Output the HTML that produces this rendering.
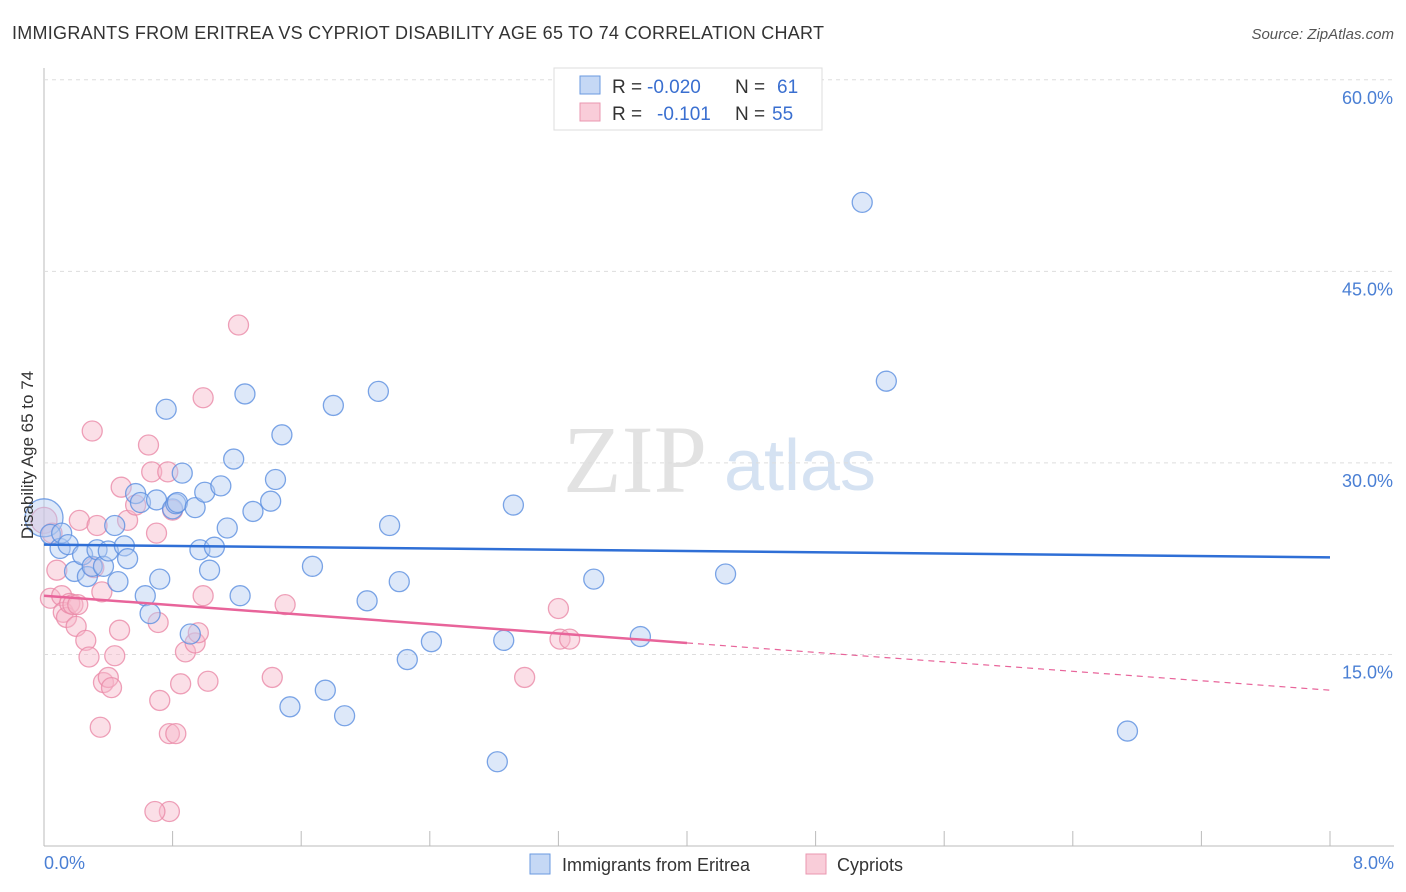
<!DOCTYPE html>
<html><head><meta charset="utf-8"><style>
body{margin:0;background:#fff;font-family:"Liberation Sans",sans-serif;}
svg{display:block}
text{white-space:pre}
</style></head><body>
<svg id="chart" width="1406" height="892">
<text x="12" y="39" font-size="18" fill="#333" textLength="812">IMMIGRANTS FROM ERITREA VS CYPRIOT DISABILITY AGE 65 TO 74 CORRELATION CHART</text>
<text x="1394" y="39" font-size="15" fill="#555" font-style="italic" text-anchor="end">Source: ZipAtlas.com</text>
<text x="635" y="492" font-size="96" fill="#e2e2e2" font-family="Liberation Serif,serif" text-anchor="middle">ZIP</text>
<text x="800" y="490" font-size="72" fill="#d5e2f2" text-anchor="middle">atlas</text>
<g id="grid"></g><g id="marks"></g>
<text transform="translate(33,455) rotate(-90)" font-size="17" fill="#333" text-anchor="middle">Disability Age 65 to 74</text>
<text x="44" y="869" font-size="18" fill="#4a7fd4">0.0%</text>
<text x="1394" y="869" font-size="18" fill="#4a7fd4" text-anchor="end">8.0%</text>
<g>
<rect x="554" y="68" width="268" height="62" fill="#fff" stroke="#ddd"/>
<rect x="580" y="76" width="20" height="18" fill="#c5d8f5" stroke="#6a9ae0"/>
<rect x="580" y="103" width="20" height="18" fill="#f9cdd9" stroke="#ea97b0"/>
<text x="612" y="93" font-size="19" fill="#333">R =</text>
<text x="647" y="93" font-size="19" fill="#3a6fd0">-0.020</text>
<text x="735" y="93" font-size="19" fill="#333">N =</text>
<text x="777" y="93" font-size="19" fill="#3a6fd0">61</text>
<text x="612" y="120" font-size="19" fill="#333">R =</text>
<text x="657" y="120" font-size="19" fill="#3a6fd0">-0.101</text>
<text x="735" y="120" font-size="19" fill="#333">N =</text>
<text x="772" y="120" font-size="19" fill="#3a6fd0">55</text>
</g>
<g>
<rect x="530" y="854" width="20" height="20" fill="#c5d8f5" stroke="#6a9ae0"/>
<text x="562" y="871" font-size="18" fill="#333">Immigrants from Eritrea</text>
<rect x="806" y="854" width="20" height="20" fill="#f9cdd9" stroke="#ea97b0"/>
<text x="837" y="871" font-size="18" fill="#333">Cypriots</text>
</g>
</svg>
<script>
const yTicks=[15,30,45,60];
const xTicks=[0,0.8,1.6,2.4,3.2,4.0,4.8,5.6,6.4,7.2,8.0];
const blueX=[0,0.04,0.1,0.11,0.15,0.19,0.24,0.27,0.3,0.33,0.37,0.4,0.44,0.46,0.5,0.52,0.57,0.6,0.63,0.66,0.7,0.72,0.76,0.8,0.82,0.83,0.86,0.91,0.94,0.97,1.0,1.03,1.06,1.1,1.14,1.18,1.22,1.25,1.3,1.41,1.44,1.48,1.53,1.67,1.75,1.8,1.87,2.01,2.08,2.15,2.21,2.26,2.41,2.82,2.86,2.92,3.42,3.71,4.24,5.09,5.24,6.74];
const blueY=[25.7,24.4,23.3,24.5,23.6,21.5,22.8,21.1,21.9,23.2,21.9,23.1,25.1,20.7,23.5,22.5,27.6,26.9,19.6,18.2,27.1,20.9,34.2,26.4,26.8,26.9,29.2,16.6,26.5,23.2,27.7,21.6,23.4,28.2,24.9,30.3,19.6,35.4,26.2,27.0,28.7,32.2,10.9,21.9,12.2,34.5,10.2,19.2,35.6,25.1,20.7,14.6,16.0,6.6,16.1,26.7,20.9,16.4,21.3,50.4,36.4,9.0];
const pinkX=[0,0.04,0.05,0.08,0.11,0.12,0.14,0.16,0.18,0.2,0.21,0.22,0.26,0.28,0.3,0.31,0.33,0.35,0.36,0.37,0.4,0.42,0.44,0.47,0.48,0.52,0.57,0.65,0.67,0.7,0.71,0.72,0.77,0.78,0.8,0.82,0.78,0.69,0.85,0.88,0.94,0.96,0.99,0.99,1.02,1.21,1.42,1.5,2.99,3.2,3.21,3.27];
const pinkY=[25.5,19.4,24.5,21.6,19.6,18.3,17.9,19.0,18.9,17.2,18.9,25.5,16.1,14.8,32.5,21.8,25.1,9.3,19.9,12.8,13.2,12.4,14.9,16.9,28.1,25.5,26.7,31.4,29.3,24.5,17.5,11.4,29.3,8.8,26.3,8.8,2.7,2.7,12.7,15.2,15.9,16.7,35.1,19.6,12.9,40.8,13.2,18.9,13.2,18.6,16.2,16.2];
const ns="http://www.w3.org/2000/svg";
const X0=44,X1=1330,Y0=846,PY=12.77;
const xs=v=>X0+(X1-X0)*v/8, ys=v=>Y0-v*PY;
function el(t,a,p){const e=document.createElementNS(ns,t);for(const k in a)e.setAttribute(k,a[k]);p.appendChild(e);return e;}
const grid=document.getElementById('grid'),marks=document.getElementById('marks');
const ax=el('line',{x1:44,y1:68,x2:44,y2:846,stroke:'#bbb'},grid);


const bx=el('line',{x1:44,y1:846,x2:1394,y2:846,stroke:'#bbb'},grid);


yTicks.forEach(t=>{
 const l=el('line',{x1:44,x2:1394,y1:ys(t),y2:ys(t),stroke:'#ddd','stroke-dasharray':'4,4'},grid);
 
 
 const tx=el('text',{x:1393,y:ys(t)+24,'font-size':18,fill:'#4a7fd4','text-anchor':'end'},grid);
 tx.textContent=t.toFixed(1)+'%';
 
 
});
xTicks.forEach(t=>{
 const l=el('line',{x1:xs(t),x2:xs(t),y1:831,y2:846,stroke:'#bbb'},grid);
 
 
});
function dots(X,Y,fill,stroke,name){
 X.forEach((x,i)=>{
  const r=(i===0)?(name==='eritrea-point'?19:13):10;
  const c=el('circle',{cx:xs(x),cy:ys(Y[i]),r:r,fill:fill,'fill-opacity':0.45,stroke:stroke,'stroke-width':1.3,'stroke-opacity':0.8},marks);
  
  
 });
}
dots(pinkX,pinkY,'#f7b8c9','#ea8aa8','cypriot-point');
dots(blueX,blueY,'#b4cdf2','#5b8fe0','eritrea-point');
const bl=el('line',{x1:xs(0),y1:ys(23.6),x2:xs(8),y2:ys(22.6),stroke:'#2f6fd6','stroke-width':2.5},marks);


const pl=el('line',{x1:xs(0),y1:ys(19.6),x2:xs(4),y2:ys(15.9),stroke:'#e8649a','stroke-width':2.5},marks);


const pd=el('line',{x1:xs(4),y1:ys(15.9),x2:xs(8),y2:ys(12.2),stroke:'#e8649a','stroke-width':1.2,'stroke-dasharray':'6,5'},marks);


</script>
</body></html>
